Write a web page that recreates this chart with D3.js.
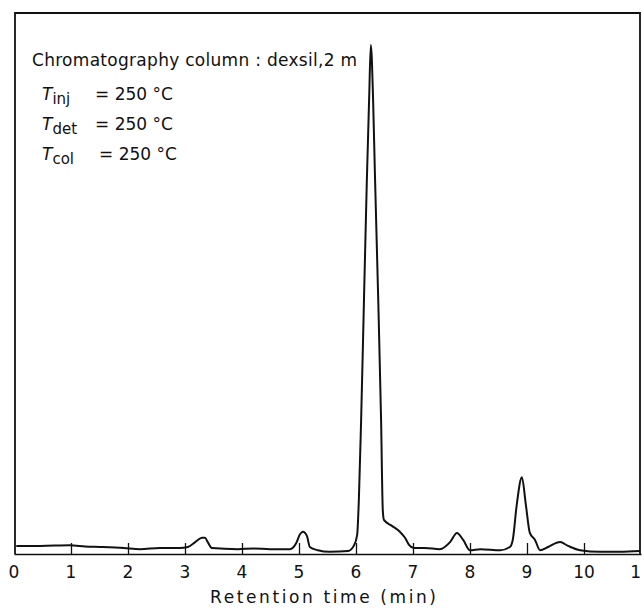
<!DOCTYPE html>
<html>
<head>
<meta charset="utf-8">
<script src="https://cdn.jsdelivr.net/npm/d3@7"></script>
<style>
  body { margin: 0; background: #fff; }
  text { font-family: "DejaVu Sans", sans-serif; fill: #111; }
</style>
</head>
<body>
<div id="chart"></div>
<script>
// chromatogram data
var times = [0.04, 0.46, 0.98, 1.25, 1.51, 1.93, 2.21, 2.56, 2.91, 3.05, 3.18, 3.30, 3.35, 3.40, 3.47,
  3.93, 4.20, 4.49, 4.84, 4.95, 5.02, 5.07, 5.14, 5.19, 5.33, 5.54, 5.86, 5.96, 6.02, 6.05, 6.09,
  6.14, 6.19, 6.23, 6.26, 6.30, 6.33, 6.39, 6.44, 6.47, 6.49, 6.63, 6.77, 6.86, 6.93, 7.02,
  7.21, 7.47, 7.65, 7.77, 7.88, 8.0, 8.18, 8.53, 8.70, 8.75, 8.82, 8.91, 8.98, 9.05, 9.14,
  9.23, 9.37, 9.58, 9.72, 9.93, 10.28, 10.63, 10.98];
var signal = [1.5, 1.5, 1.6, 1.4, 1.3, 1.1, 0.9, 1.1, 1.1, 1.3, 2.2, 3.0, 3.0, 2.2, 1.1,
  0.9, 1.0, 0.9, 0.9, 2.0, 3.7, 4.1, 3.3, 1.3, 0.7, 0.4, 0.55, 1.5, 3.5, 10, 24.8,
  47, 69, 84, 94.1, 84, 71, 47, 24.8, 8.1, 6.3, 5.2, 4.1, 3.0, 1.7, 1.1,
  1.1, 0.9, 2.2, 3.9, 2.6, 0.7, 0.9, 0.7, 1.3, 2.6, 9.1, 14.2, 9.1, 3.9, 2.6,
  0.7, 1.3, 2.2, 1.5, 0.7, 0.4, 0.4, 0.55];
var tickValues = [0, 1, 2, 3, 4, 5, 6, 7, 8, 9, 10, 11];
var tickLabels = ["0", "1", "2", "3", "4", "5", "6", "7", "8", "9", "10", "1"];
var conditions = [
  { name: "inj", value: "= 250 \u00B0C" },
  { name: "det", value: "= 250 \u00B0C" },
  { name: "col", value: "= 250 \u00B0C" }
];

var width = 642;
var height = 609;

var svg = d3.select('#chart').append('svg')
  .attr('width', width)
  .attr('height', height);

var x = d3.scaleLinear().domain([0, 11]).range([14, 641]);
var y = d3.scaleLinear().domain([0, 100]).range([554, 13]);

// frame (left, top, right)
svg.append('path')
  .attr('d', 'M' + 15 + ',' + y(0) + 'V' + y(100) + 'H' + 640 + 'V' + y(0))
  .attr('fill', 'none')
  .attr('stroke', '#111')
  .attr('stroke-width', 1.8);

// x axis, ticks point up into the plot
var xAxis = d3.axisBottom(x)
  .tickValues(tickValues.slice(1, 11))
  .tickSizeInner(-11)
  .tickSizeOuter(0)
  .tickFormat('');
var gx = svg.append('g')
  .attr('transform', 'translate(0,' + y(0) + ')')
  .call(xAxis);
gx.select('.domain').attr('stroke', '#111').attr('stroke-width', 1.6);
gx.selectAll('.tick line').attr('stroke', '#111').attr('stroke-width', 1.3);

svg.selectAll('.tlabel').data(tickValues)
  .enter().append('text')
  .attr('class', 'tlabel')
  .attr('x', function(d) { return d == 11 ? 641 : x(d); })
  .attr('y', 578)
  .attr('text-anchor', function(d) { return d == 11 ? 'end' : 'middle'; })
  .attr('font-size', 17)
  .text(function(d, i) { return tickLabels[i]; });

svg.append('text')
  .attr('x', 323)
  .attr('y', 603)
  .attr('text-anchor', 'middle')
  .attr('font-size', 17)
  .attr('textLength', 226)
  .text('Retention time  (min)');

// the trace
var pts = times.map(function(t, i) { return [t, signal[i]]; });
var line = d3.line()
  .curve(d3.curveMonotoneX)
  .x(function(d) { return x(d[0]); })
  .y(function(d) { return y(d[1]); });
svg.append('path')
  .datum(pts)
  .attr('d', line)
  .attr('fill', 'none')
  .attr('stroke', '#111')
  .attr('stroke-width', 2)
  .attr('stroke-linejoin', 'round');

// annotation block
svg.append('text')
  .attr('x', 32)
  .attr('y', 66)
  .attr('font-size', 17)
  .attr('textLength', 325)
  .text('Chromatography column : dexsil,2 m');

var rows = svg.selectAll('.cond').data(conditions)
  .enter().append('text')
  .attr('class', 'cond')
  .attr('x', 42)
  .attr('y', function(d, i) { return 100 + i * 30; })
  .attr('font-size', 17);
rows.append('tspan')
  .attr('font-style', 'italic')
  .text('T');
rows.append('tspan')
  .attr('dy', 4)
  .attr('font-size', 15)
  .text(function(d) { return d.name; });
rows.append('tspan')
  .attr('x', function(d, i) { return i == 2 ? 99 : 95; })
  .attr('dy', -4)
  .text(function(d) { return d.value; });
</script>
</body>
</html>
